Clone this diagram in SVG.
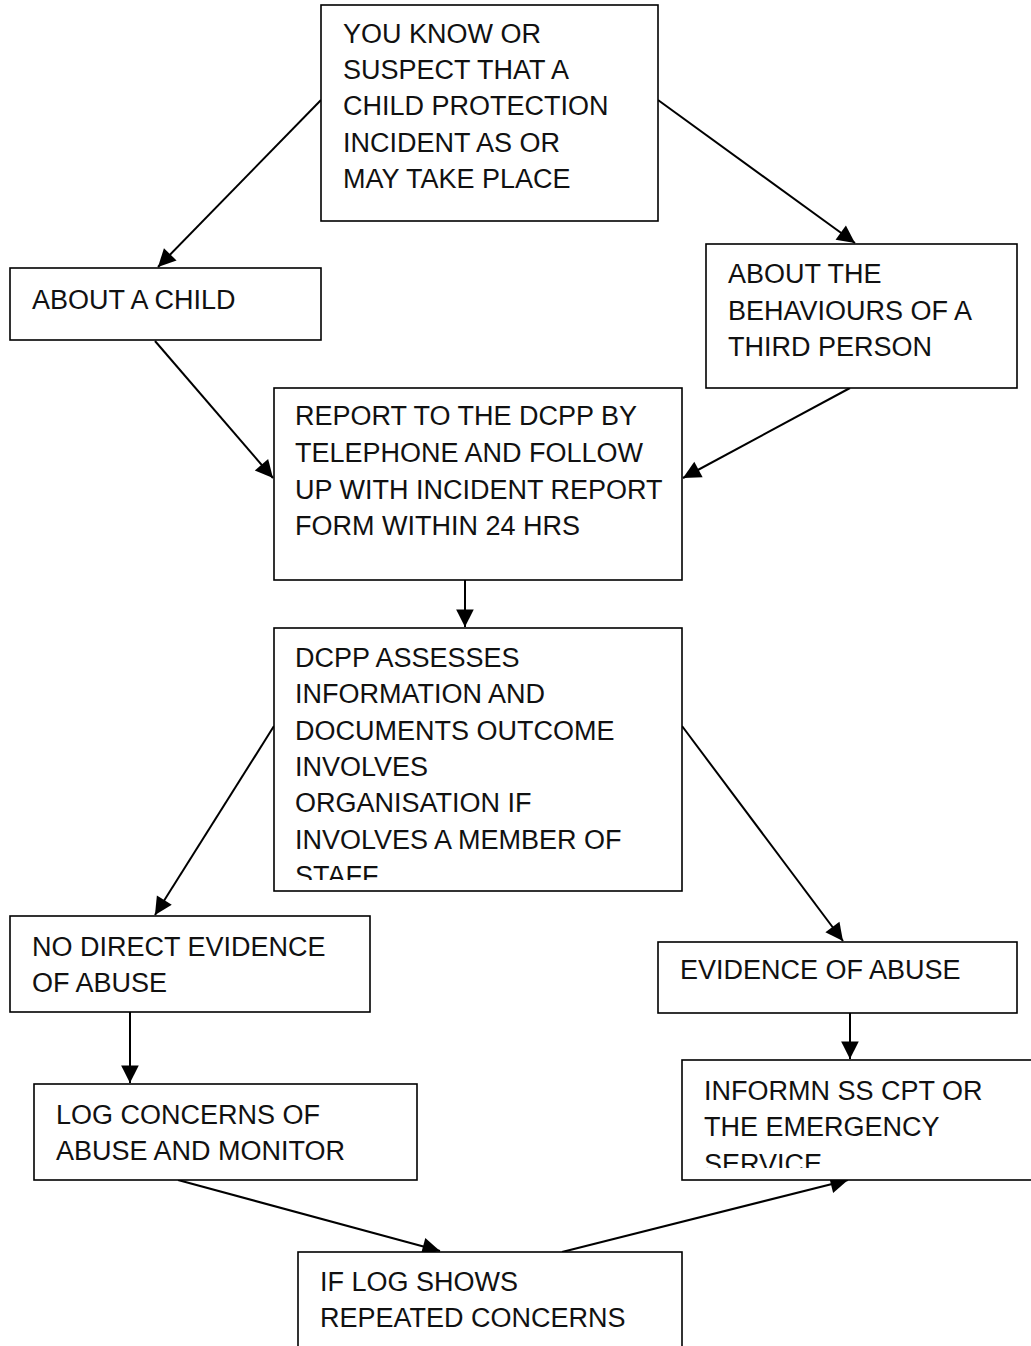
<svg xmlns="http://www.w3.org/2000/svg" width="1031" height="1346" viewBox="0 0 1031 1346">
<style>
.box{fill:#fff;stroke:#000;stroke-width:1.6}
.t{font-family:"Liberation Sans",Arial,sans-serif;font-size:27px;fill:#111}
.c{stroke:#000;stroke-width:2;fill:none;marker-end:url(#ah)}
</style>
<defs>
<marker id="ah" viewBox="0 0 10 10" refX="10" refY="5" markerWidth="8" markerHeight="8" markerUnits="userSpaceOnUse" orient="auto" style="overflow:visible">
<path d="M0,0 L10,5 L0,10 z" fill="#000" transform="scale(2.2)translate(-5.45,-2.7)"/>
</marker>
<clipPath id="cl5"><rect x="274" y="628" width="408" height="252"/></clipPath>
<clipPath id="cl9"><rect x="682" y="1060" width="349" height="108"/></clipPath>
</defs>
<rect width="1031" height="1346" fill="#fff"/>
<g id="connectors">
<line class="c" x1="321" y1="100" x2="158" y2="267"/>
<line class="c" x1="658" y1="100" x2="855" y2="243"/>
<line class="c" x1="155" y1="341" x2="273" y2="478"/>
<line class="c" x1="850" y1="388" x2="683" y2="478"/>
<line class="c" x1="465" y1="580" x2="465" y2="627"/>
<line class="c" x1="274" y1="726" x2="155" y2="915"/>
<line class="c" x1="682" y1="726" x2="843" y2="941"/>
<line class="c" x1="130" y1="1012" x2="130" y2="1083"/>
<line class="c" x1="850" y1="1013" x2="850" y2="1059"/>
<line class="c" x1="178" y1="1180" x2="440" y2="1251"/>
<line class="c" x1="562" y1="1252" x2="848" y2="1180"/>
</g>
<g id="n1">
<rect class="box" x="321" y="5" width="337" height="216"/>
<text class="t" x="343" y="43">YOU KNOW OR</text>
<text class="t" x="343" y="79">SUSPECT THAT A</text>
<text class="t" x="343" y="115">CHILD PROTECTION</text>
<text class="t" x="343" y="152">INCIDENT AS OR</text>
<text class="t" x="343" y="188">MAY TAKE PLACE</text>
</g>
<g id="n2">
<rect class="box" x="10" y="268" width="311" height="72"/>
<text class="t" x="32" y="309">ABOUT A CHILD</text>
</g>
<g id="n3">
<rect class="box" x="706" y="244" width="311" height="144"/>
<text class="t" x="728" y="283">ABOUT THE</text>
<text class="t" x="728" y="320">BEHAVIOURS OF A</text>
<text class="t" x="728" y="356">THIRD PERSON</text>
</g>
<g id="n4">
<rect class="box" x="274" y="388" width="408" height="192"/>
<text class="t" x="295" y="425">REPORT TO THE DCPP BY</text>
<text class="t" x="295" y="462">TELEPHONE AND FOLLOW</text>
<text class="t" x="295" y="499">UP WITH INCIDENT REPORT</text>
<text class="t" x="295" y="535">FORM WITHIN 24 HRS</text>
</g>
<g id="n5">
<rect class="box" x="274" y="628" width="408" height="263"/>
<g clip-path="url(#cl5)">
<text class="t" x="295" y="667">DCPP ASSESSES</text>
<text class="t" x="295" y="703">INFORMATION AND</text>
<text class="t" x="295" y="740">DOCUMENTS OUTCOME</text>
<text class="t" x="295" y="776">INVOLVES</text>
<text class="t" x="295" y="812">ORGANISATION IF</text>
<text class="t" x="295" y="849">INVOLVES A MEMBER OF</text>
<text class="t" x="295" y="885">STAFF</text>
</g>
</g>
<g id="n6">
<rect class="box" x="10" y="916" width="360" height="96"/>
<text class="t" x="32" y="956">NO DIRECT EVIDENCE</text>
<text class="t" x="32" y="992">OF ABUSE</text>
</g>
<g id="n7">
<rect class="box" x="658" y="942" width="359" height="71"/>
<text class="t" x="680" y="979">EVIDENCE OF ABUSE</text>
</g>
<g id="n8">
<rect class="box" x="34" y="1084" width="383" height="96"/>
<text class="t" x="56" y="1124">LOG CONCERNS OF</text>
<text class="t" x="56" y="1160">ABUSE AND MONITOR</text>
</g>
<g id="n9">
<rect class="box" x="682" y="1060" width="360" height="120"/>
<g clip-path="url(#cl9)">
<text class="t" x="704" y="1100">INFORMN SS CPT OR</text>
<text class="t" x="704" y="1136">THE EMERGENCY</text>
<text class="t" x="704" y="1173">SERVICE</text>
</g>
</g>
<g id="n10">
<rect class="box" x="298" y="1252" width="384" height="110"/>
<text class="t" x="320" y="1291">IF LOG SHOWS</text>
<text class="t" x="320" y="1327">REPEATED CONCERNS</text>
</g>
</svg>
